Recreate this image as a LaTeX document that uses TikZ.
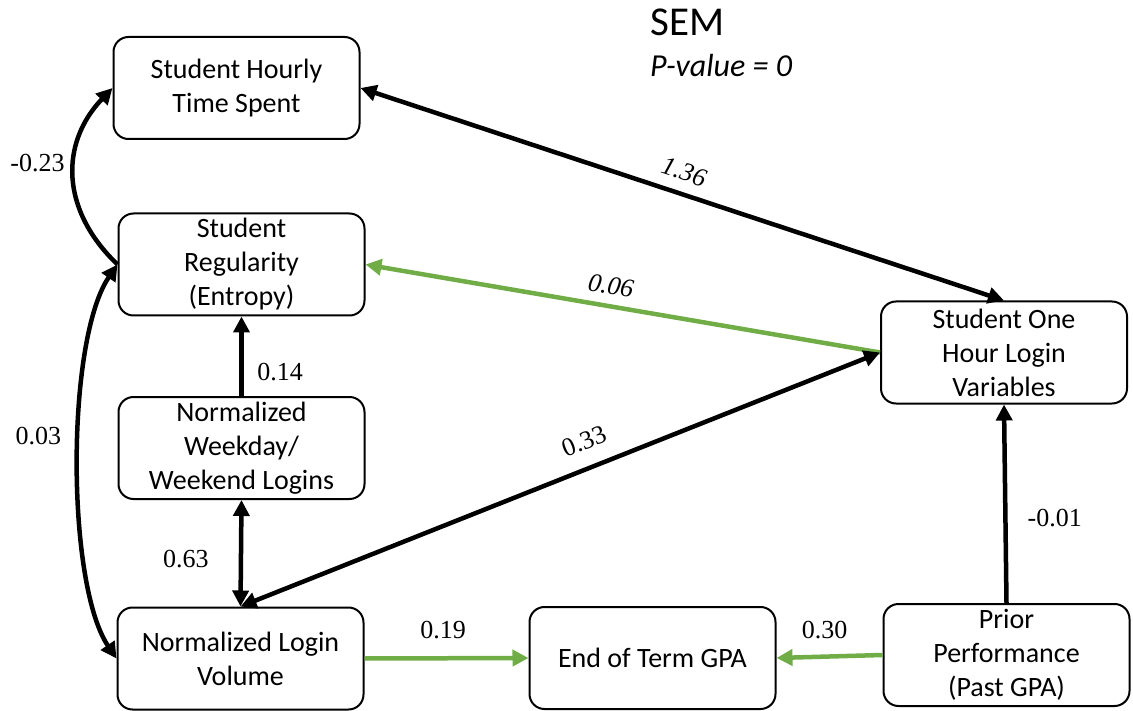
\documentclass[tikz,border=0pt]{standalone}
\usepackage{fontspec}
\setmainfont{Carlito}
\newfontfamily\numfont{Liberation Serif}
\usetikzlibrary{arrows.meta}
\definecolor{pathgreen}{HTML}{70AD47}

\begin{document}
\begin{tikzpicture}[x=1pt,y=1pt,
  var/.style={draw, line width=2pt, rounded corners=15pt, minimum width=246pt,
    minimum height=102pt, inner sep=0pt, align=center,
    font=\fontsize{28}{34}\selectfont},
  conn/.style={line width=4.5pt, -{Triangle[length=16pt,width=16pt]}},
  cov/.style={line width=4.5pt,
    {Triangle[length=16pt,width=16pt]}-{Triangle[length=16pt,width=16pt]}},
  greenpath/.style={conn, draw=pathgreen},
  coef/.style={inner sep=0pt, font=\numfont\fontsize{26}{30}\selectfont},
  coefit/.style={inner sep=0pt, font=\numfont\itshape\fontsize{26}{30}\selectfont},
]
\useasboundingbox (0,0) rectangle (1133,-711);

% title
\node[anchor=base west, inner sep=0pt, font=\fontsize{41}{48}\selectfont] (title) at (650,-36) {SEM};
\node[anchor=base west, inner sep=0pt, font=\itshape\fontsize{32}{38}\selectfont] (pval) at (650,-77) {P-value = 0};

% variables
\node[var] (hourly)  at (236.5,-88)    {Student Hourly\\Time Spent};
\node[var] (regular) at (241.5,-264.5) {Student\\Regularity\\(Entropy)};
\node[var] (weekday) at (241.5,-448)   {Normalized\\Weekday/\\Weekend Logins};
\node[var] (volume)  at (240.5,-658.5) {Normalized Login\\Volume};
\node[var] (gpa)     at (652.5,-658)   {End of Term GPA};
\node[var] (onehour) at (1004,-352.5)  {Student One\\Hour Login\\Variables};
\node[var] (prior)   at (1006.5,-655)  {Prior\\Performance\\(Past GPA)};

% paths and covariances
\draw[cov] (hourly.east) -- (onehour.north);
\draw[greenpath] (onehour.west) -- (regular.east);
\draw[cov] (volume.north) -- (onehour.west);
\draw[conn] (weekday.north) -- node[coef, pos=0.3, right=13.5pt] (l014) {0.14} (regular.south);
\draw[cov] (weekday.south) -- node[coef, pos=0.55, left=30pt] (l063) {0.63} (volume.north);
\draw[greenpath] (volume.east) -- node[coef, pos=0.48, above=17pt] (l019) {0.19} (gpa.west);
\draw[greenpath] (prior.west) -- node[coef, pos=0.546, above=15.5pt] (l030) {0.30} (gpa.east);
\draw[conn] (prior.north) -- node[coef, pos=0.43, right=20pt] (l001) {-0.01} (onehour.south);
\draw[conn] (regular.west) .. controls (60,-209.5) and (60,-143) .. (hourly.west);
\draw[cov] (regular.west) .. controls (66,-339.5) and (66,-583.5) .. (volume.west);

% coefficients beside the slanted and curved connectors
\node[coefit, rotate=-18.3] (l136) at (684,-172) {1.36};
\node[coefit, rotate=-9.7]  (l006) at (611,-286) {0.06};
\node[coef, rotate=21.7]    (l033) at (584,-441) {0.33};
\node[coef] (l023) at (37.5,-163.5) {-0.23};
\node[coef] (l003) at (38.5,-436.5) {0.03};
\end{tikzpicture}
\end{document}
